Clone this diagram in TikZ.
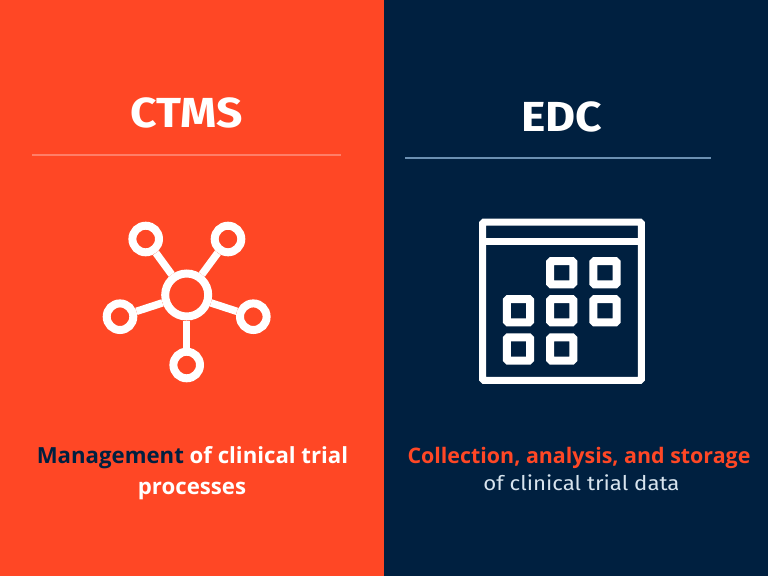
\documentclass[tikz,border=0pt]{standalone}
\usepackage{fontspec}
\setmainfont{Fira Sans}
\newfontfamily\headfont[FakeStretch=1.1]{Fira Sans}
\newfontfamily\bodyfont{Open Sans}
\definecolor{brandorange}{HTML}{FF4725}
\definecolor{brandnavy}{HTML}{002040}
\definecolor{ruleorange}{HTML}{FF7E68}
\definecolor{rulenavy}{HTML}{6C90B2}
\definecolor{softwhite}{HTML}{D8E4EE}
\tikzset{
  hub/.style={circle,draw=white,line width=8pt,minimum size=43pt,inner sep=0pt},
  leaf/.style={circle,draw=white,line width=8pt,minimum size=26.6pt,inner sep=0pt},
  spoke/.style={draw=white,line width=7.5pt},
  cell/.style={rectangle,rounded corners=1.5pt,draw=white,line width=8pt,minimum size=23.4pt,inner sep=0pt},
  framebox/.style={draw=white,line width=7pt,rounded corners=1.5pt},
  heading/.style={anchor=base,text=white,inner sep=0pt,font=\headfont\bfseries\fontsize{42}{42}\selectfont},
  capt/.style={anchor=base,inner sep=0pt,font=\bodyfont\bfseries\fontsize{22.2}{22}\selectfont},
  captb/.style={anchor=base,inner sep=0pt,font=\bodyfont\bfseries\fontsize{21.4}{22}\selectfont},
  capr/.style={anchor=base,inner sep=0pt,font=\headfont\fontsize{20.2}{22}\selectfont},
}
\begin{document}
\begin{tikzpicture}[x=1pt,y=-1pt]
\useasboundingbox (0,0) rectangle (768,576);
\fill[brandorange] (0,0) rectangle (384,576);
\fill[brandnavy] (384,0) rectangle (768,576);
% left panel
\node[heading] (ctms) at (186.5,127) {CTMS};
\coordinate (ruleLa) at (32,155);
\coordinate (ruleLb) at (341,155);
\draw[ruleorange,line width=1.2pt] (ruleLa) -- (ruleLb);
\node[hub] (center) at (186.7,295) {};
\node[leaf] (tl) at (145.7,239) {};
\node[leaf] (tr) at (228,239) {};
\node[leaf] (ml) at (120,316.7) {};
\node[leaf] (mr) at (253.3,316.7) {};
\node[leaf] (bm) at (186.7,365) {};
\foreach \n in {tl,tr,ml,mr,bm}{\draw[spoke] (center) -- (\n);}
\node[capt,text=white] (capL1) at (192.5,463) {\textcolor{brandnavy}{Management} of clinical trial};
\node[capt,text=white] (capL2) at (192,494) {processes};
% right panel
\node[heading] (edc) at (562,131) {EDC};
\coordinate (ruleRa) at (405,158);
\coordinate (ruleRb) at (711,158);
\draw[rulenavy,line width=1.2pt] (ruleRa) -- (ruleRb);
\draw[framebox] (482.6,222) rectangle (641.4,380.4);
\draw[draw=white,line width=7pt] (482.6,241) -- (641.4,241);
\node[cell] (c12) at (561.7,272.7) {};
\node[cell] (c13) at (605,272.7) {};
\node[cell] (c21) at (518.5,310.7) {};
\node[cell] (c22) at (561.7,310.7) {};
\node[cell] (c23) at (605,310.7) {};
\node[cell] (c31) at (518.5,349) {};
\node[cell] (c32) at (561.7,349) {};
\node[captb,text=brandorange] (capR1) at (579,463.3) {Collection, analysis, and storage};
\node[capr,text=softwhite] (capR2) at (581.5,490) {of clinical trial data};
\end{tikzpicture}
\end{document}
